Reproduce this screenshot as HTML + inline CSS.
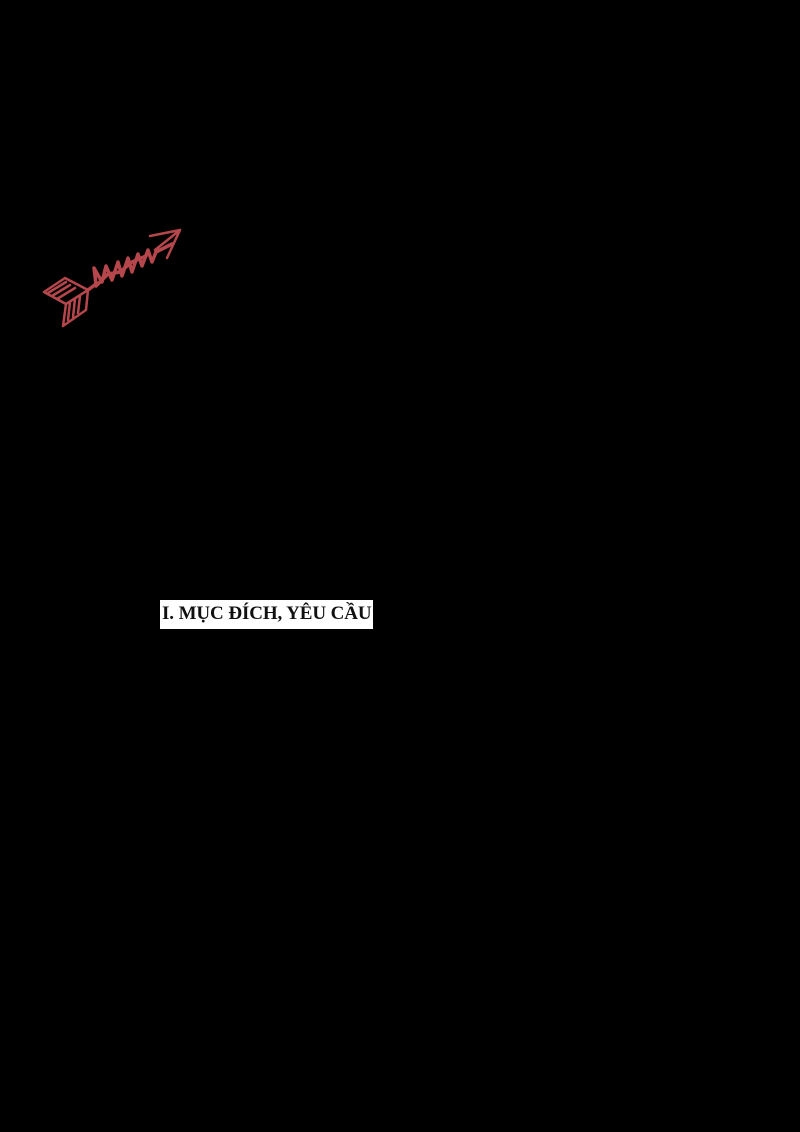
<!DOCTYPE html>
<html><head><meta charset="utf-8"><style>
html,body{margin:0;padding:0;background:#000;width:800px;height:1132px;overflow:hidden;position:relative}
.box{position:absolute;left:160px;top:600px;width:213px;height:29px;background:#fff;}
.box span{position:absolute;left:2px;top:3px;font-family:"Liberation Serif",serif;font-weight:bold;font-size:19px;color:#111;white-space:nowrap;letter-spacing:-0.1px}
svg{position:absolute;left:0;top:0}
</style></head><body>
<svg width="800" height="1132">
<g stroke="#b5474c" stroke-width="2.5" fill="none" stroke-linecap="round" stroke-linejoin="round">
<path d="M44 292 L65 278 L88 290 L66 304 Z"/>
<path d="M48 293 L66 282 M52 296 L70 285 M57 299 L75 288"/>
<path d="M66 304 L63 326 M66 304 L88 290 L86 310 L63 326"/>
<path d="M70 302 L68 320 M75 299 L73 317 M80 296 L78 313"/>
<g stroke-width="3.5">
<path d="M88 290 L96 284 L94 268 L102 282 L106 266 L112 280 L118 262 L122 276 L128 258 L132 272 L138 254 L142 266 L148 250 L152 262 L156 252 L172 244"/>
<path d="M96 286 L108 274 L120 272 L132 262 L146 256"/>
</g>
<path d="M150 236 L180 230 L167 258 M180 230 L155 250"/>
</g>
</svg>
<div class="box"><span>I. MỤC ĐÍCH, YÊU CẦU</span></div>
</body></html>
